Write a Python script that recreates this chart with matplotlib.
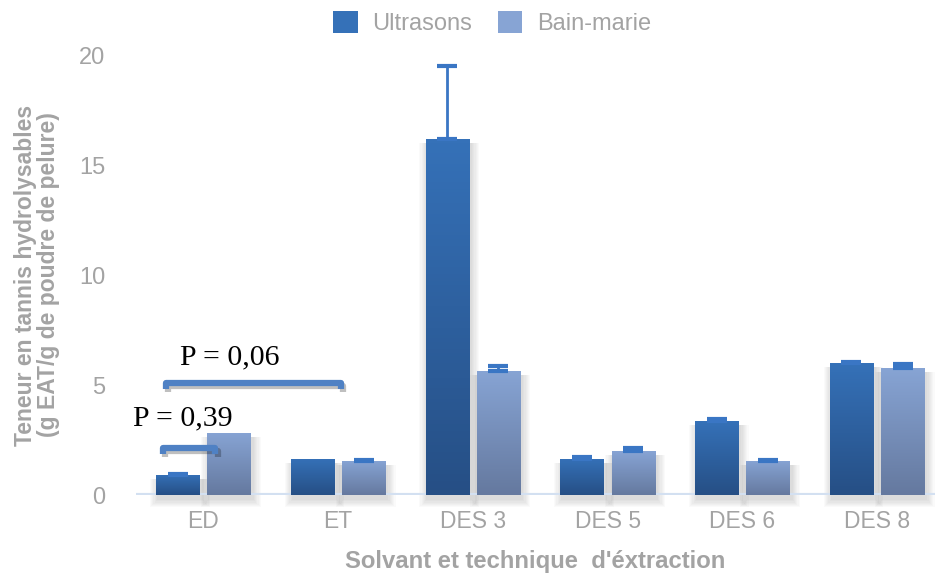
import numpy as np
import matplotlib
matplotlib.use("Agg")
import matplotlib.pyplot as plt
from matplotlib import patheffects as pe
from matplotlib.colors import LinearSegmentedColormap
from matplotlib.patches import Rectangle, Patch

categories = ["ED", "ET", "DES 3", "DES 5", "DES 6", "DES 8"]
series = ["Ultrasons", "Bain-marie"]
ultrasons = [0.91, 1.64, 16.18, 1.64, 3.36, 6.0]
ultrasons_err = [0.04, 0.0, 3.3, 0.1, 0.08, 0.03]
bainmarie = [2.82, 1.55, 5.64, 2.0, 1.55, 5.77]
bainmarie_err = [0.0, 0.03, 0.22, 0.12, 0.03, 0.17]
yticks = [0, 5, 10, 15, 20]

grey = "#a3a3a3"
err_col = "#3a76c4"
grads = {
    "Ultrasons": ("#3571b8", "#264f85"),
    "Bain-marie": ("#87a4d4", "#65799f"),
}

fig = plt.figure(figsize=(9.35, 5.76), dpi=100)
ax = fig.add_axes([136/935, 81/576, (935-136)/935, (495-55)/576])
x = np.arange(len(categories))
w = 0.32
off = 0.19
XL = (-0.5, 5.43)
ax.set_xlim(*XL)
ax.set_ylim(0, 20)
pxx = (XL[1] - XL[0]) / (935 - 136)
pxy = 20 / 440.0

def grad_bars(xs, vals, name):
    top, bot = grads[name]
    cmap = LinearSegmentedColormap.from_list(name, [bot, top])
    bars = ax.bar(xs, vals, w, color=top, zorder=2, linewidth=0)
    for b in bars:
        bx, by = b.get_x(), b.get_y()
        bw, bh = b.get_width(), b.get_height()
        # soft shadow
        for k in range(7):
            ex = (k + 1) * 1.2
            ax.add_patch(Rectangle((bx - ex * pxx + 2 * pxx, by - ex * pxy - 4 * pxy),
                                   bw + 2 * ex * pxx, bh + ex * pxy,
                                   facecolor="black", alpha=0.018, lw=0, zorder=1,
                                   clip_on=False))
        img = np.linspace(0, 1, 100).reshape(-1, 1)
        im = ax.imshow(img, cmap=cmap, origin="lower", aspect="auto",
                       extent=[bx, bx + bw, by, by + bh], zorder=3)
        im.set_clip_path(b)
    return bars

grad_bars(x - off, ultrasons, "Ultrasons")
grad_bars(x + off, bainmarie, "Bain-marie")
ax.set_xlim(*XL)
ax.set_ylim(0, 20)

for xs, vals, errs in [(x - off, ultrasons, ultrasons_err), (x + off, bainmarie, bainmarie_err)]:
    v = np.array(vals); e = np.array(errs)
    m = e > 0
    ax.errorbar(xs[m], v[m], yerr=[np.zeros(m.sum()), e[m]], fmt="none", ecolor=err_col,
                elinewidth=2, capsize=7, capthick=3, zorder=4)

# baseline
ax.axhline(0, color="#d3e0f1", lw=3, zorder=1.5)

for s in ax.spines.values():
    s.set_visible(False)
ax.set_yticks(yticks)
ax.set_yticklabels([str(t) for t in yticks], fontsize=17, color=grey, family="Liberation Sans")
ax.tick_params(axis="y", length=0, pad=22)
ax.set_xticks(x)
ax.set_xticklabels(categories, fontsize=16.5, color=grey, family="Liberation Sans")
ax.tick_params(axis="x", length=0, pad=11)

ax.set_ylabel("Teneur en tannis hydrolysables\n(g EAT/g de poudre de pelure)", fontsize=16.5,
              fontweight="bold", color=grey, family="Liberation Sans", labelpad=14, linespacing=1.0)
ax.set_xlabel("Solvant et technique  d'éxtraction", fontsize=17.2, fontweight="bold",
              color=grey, family="Liberation Sans", labelpad=12)

# significance brackets
br_col = "#4f81c4"
shadow = [pe.SimpleLineShadow(offset=(1.5, -2), alpha=0.25), pe.Normal()]
ax.plot([-0.30, -0.30, 0.09, 0.09], [1.85, 2.14, 2.14, 1.85], color=br_col, lw=4.5,
        solid_joinstyle="round", solid_capstyle="butt", zorder=5, path_effects=shadow, clip_on=False)
ax.plot([-0.28, -0.28, 1.02, 1.02], [4.8, 5.1, 5.1, 4.8], color=br_col, lw=4.5,
        solid_joinstyle="round", solid_capstyle="butt", zorder=5, path_effects=shadow, clip_on=False)
ax.text(-0.52, 3.5, "P = 0,39", fontsize=21.5, family="Liberation Serif", color="black",
        va="center", ha="left", clip_on=False)
ax.text(-0.17, 6.25, "P = 0,06", fontsize=21.5, family="Liberation Serif", color="black",
        va="center", ha="left")

# legend
handles = [Patch(facecolor=grads[name][0], edgecolor="none") for name in series]
leg = fig.legend(handles, series, loc="center", bbox_to_anchor=(0.526, 1 - 23/576), ncol=2,
                 frameon=False, prop={"family": "Liberation Sans", "size": 17},
                 handlelength=1.05, handleheight=1.05, columnspacing=1.1, handletextpad=0.6)
for t in leg.get_texts():
    t.set_color(grey)

fig.savefig("out.png", dpi=100)
